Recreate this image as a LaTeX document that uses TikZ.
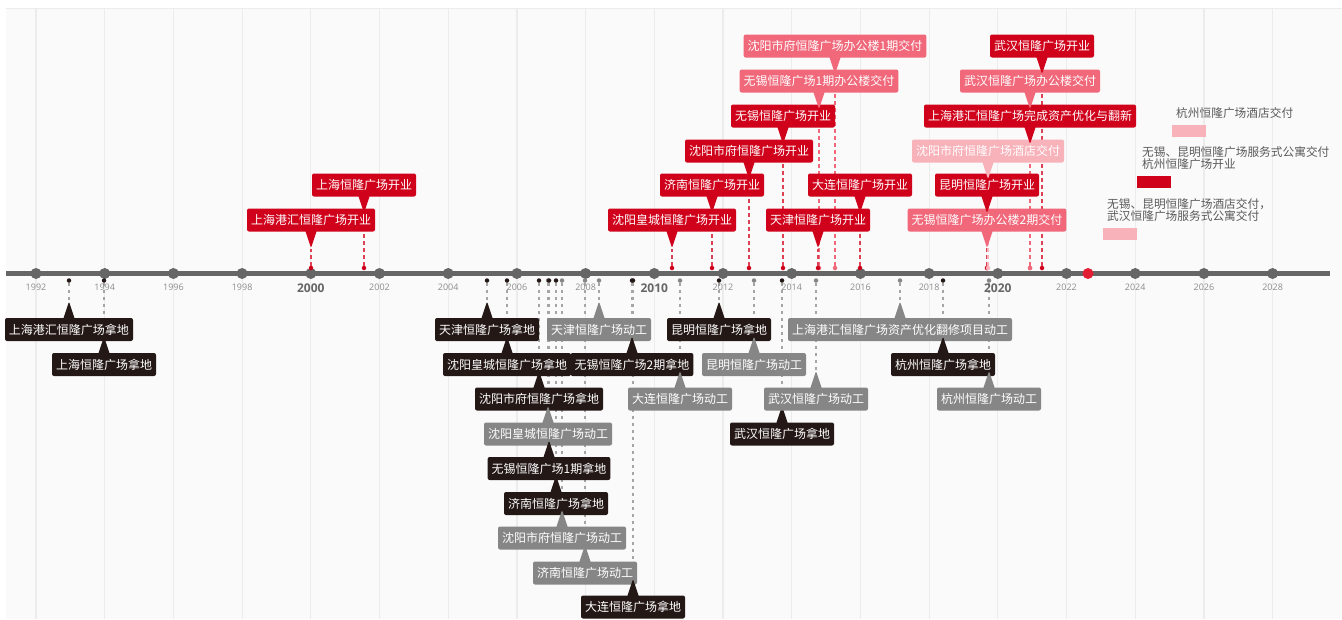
\documentclass[tikz,border=0pt]{standalone}
\usepackage{fontspec}
\setmainfont{Open Sans}
\newfontfamily\cjk{Noto Sans CJK SC}
\usepackage{tikz}
\usetikzlibrary{positioning,shapes}
\definecolor{TagRed}{RGB}{208,2,27}
\definecolor{TagPink}{RGB}{240,104,122}
\definecolor{TagPale}{RGB}{248,178,186}
\definecolor{TagBlack}{RGB}{35,24,21}
\definecolor{TagGray}{RGB}{134,134,134}
\definecolor{StemGray}{RGB}{165,165,165}
\definecolor{AxisGray}{RGB}{102,102,102}
\definecolor{YearGray}{RGB}{140,140,140}
\definecolor{NoteGray}{RGB}{90,90,90}
\definecolor{GridGray}{RGB}{236,236,236}
\definecolor{PanelGray}{RGB}{250,250,250}
\definecolor{NowRed}{RGB}{228,30,50}
\pgfdeclarelayer{back}
\pgfdeclarelayer{stems}
\pgfsetlayers{back,stems,main}

\begin{document}
\begin{tikzpicture}[x=1pt, y=-1pt,
    evtag/.style={rectangle callout, rounded corners=2pt, callout pointer width=11pt,
                  minimum height=23pt, inner xsep=4pt, inner ysep=0pt,
                  text=white, font=\cjk\fontsize{12}{12}\selectfont},
    uptag/.style={evtag, fill=#1, callout relative pointer={(0pt,-16.5pt)}},
    dntag/.style={evtag, fill=#1, callout relative pointer={(0pt,16.5pt)}},
    evdot/.style={circle, fill=#1, inner sep=0pt, minimum size=4.5pt},
    upstem/.style={draw=#1, dash pattern=on 3.5pt off 3.5pt, line width=1.2pt},
    dnstem/.style={draw=StemGray, dash pattern=on 3.5pt off 3.5pt, line width=1.2pt},
    yearmark/.style={circle, fill=AxisGray, inner sep=0pt, minimum size=11pt},
    yearlbl/.style={text=YearGray, inner sep=0pt, font=\fontsize{9}{10}\selectfont},
    bigyear/.style={text=AxisGray, inner sep=0pt, font=\bfseries\fontsize{12}{12}\selectfont},
    futbar/.style={rectangle, fill=#1, minimum width=34pt, minimum height=12pt, inner sep=0pt},
    futnote/.style={anchor=west, align=left, text=NoteGray, inner sep=0pt,
                    font=\cjk\fontsize{11.7}{12.5}\selectfont},
]
    \useasboundingbox (0,0) rectangle (1342,619);

    % panel and year grid
    \begin{pgfonlayer}{back}
        \fill[PanelGray] (6,8) rectangle (1342,619);
        \draw[GridGray, line width=0.8pt] (6,8) -- (1342,8);
        \foreach \yr in {1992,1994,...,2028}
            \draw[GridGray, line width=1.2pt] ({36+34.35*(\yr-1992)},8) -- ++(0,611);
    \end{pgfonlayer}

    % time axis
    \coordinate (axL) at (6,273.5);
    \coordinate (axR) at (1330,273.5);
    \draw[AxisGray, line width=5pt] (axL) -- (axR);
    \foreach \yr in {1992,1994,...,2028}
        \node[yearmark] (m\yr) at ({36+34.35*(\yr-1992)},273.5) {};
    \foreach \yr in {1992,1994,1996,1998,2002,2004,2006,2008,2012,2014,2016,2018,2022,2024,2026,2028}
        \node[yearlbl, below=5pt of m\yr] {\yr};
    \node[bigyear, below=4.5pt of m2000] {2000};
    \node[bigyear, below=4.5pt of m2010] {2010};
    \node[bigyear, below=4.5pt of m2020] {2020};
    \node[yearmark, fill=NowRed] (now) at (1088,273.5) {};

    % openings and deliveries (above the axis)
    \node[uptag=TagRed]  (t01) at (311,220)  {上海港汇恒隆广场开业};
    \node[uptag=TagRed]  (t02) at (364,185)  {上海恒隆广场开业};
    \node[uptag=TagRed]  (t03) at (672,220)  {沈阳皇城恒隆广场开业};
    \node[uptag=TagRed]  (t04) at (712,185)  {济南恒隆广场开业};
    \node[uptag=TagRed]  (t05) at (749,151)  {沈阳市府恒隆广场开业};
    \node[uptag=TagRed]  (t06) at (783,116)  {无锡恒隆广场开业};
    \node[uptag=TagPink] (t07) at (819,81)   {无锡恒隆广场1期办公楼交付};
    \node[uptag=TagPink] (t08) at (835,46)   {沈阳市府恒隆广场办公楼1期交付};
    \node[uptag=TagRed]  (t09) at (818,220)  {天津恒隆广场开业};
    \node[uptag=TagRed]  (t10) at (860,185)  {大连恒隆广场开业};
    \node[uptag=TagPink] (t11) at (987,220)  {无锡恒隆广场办公楼2期交付};
    \node[uptag=TagRed]  (t12) at (987,185)  {昆明恒隆广场开业};
    \node[uptag=TagPale] (t13) at (988,151)  {沈阳市府恒隆广场酒店交付};
    \node[uptag=TagRed]  (t14) at (1030,116) {上海港汇恒隆广场完成资产优化与翻新};
    \node[uptag=TagPink] (t15) at (1030,81)  {武汉恒隆广场办公楼交付};
    \node[uptag=TagRed]  (t16) at (1042,46)  {武汉恒隆广场开业};

    \node[evdot=TagRed]  (t01p) at (311,268)  {};
    \node[evdot=TagRed]  (t02p) at (364,268)  {};
    \node[evdot=TagRed]  (t03p) at (672,268)  {};
    \node[evdot=TagRed]  (t04p) at (712,268)  {};
    \node[evdot=TagRed]  (t05p) at (749,268)  {};
    \node[evdot=TagRed]  (t06p) at (783,268)  {};
    \node[evdot=TagPink] (t07p) at (819,268)  {};
    \node[evdot=TagPink] (t08p) at (835,268)  {};
    \node[evdot=TagRed]  (t09p) at (818,268)  {};
    \node[evdot=TagRed]  (t10p) at (860,268)  {};
    \node[evdot=TagPink] (t11p) at (987,268)  {};
    \node[evdot=TagRed]  (t12p) at (987,268)  {};
    \node[evdot=TagPale] (t13p) at (988,268)  {};
    \node[evdot=TagPink] (t14p) at (1030,268) {};
    \node[evdot=TagPink] (t15p) at (1030,268) {};
    \node[evdot=TagRed]  (t16p) at (1042,268) {};

    % land and construction (below the axis)
    \node[dntag=TagBlack] (b01) at (69,329.5)  {上海港汇恒隆广场拿地};
    \node[dntag=TagBlack] (b02) at (104,364.5) {上海恒隆广场拿地};
    \node[dntag=TagBlack] (b03) at (487,329.5) {天津恒隆广场拿地};
    \node[dntag=TagBlack] (b04) at (507,364.5) {沈阳皇城恒隆广场拿地};
    \node[dntag=TagBlack] (b05) at (539,399)   {沈阳市府恒隆广场拿地};
    \node[dntag=TagGray]  (b06) at (548,434)   {沈阳皇城恒隆广场动工};
    \node[dntag=TagBlack] (b07) at (549,468.5) {无锡恒隆广场1期拿地};
    \node[dntag=TagBlack] (b08) at (556,503.5) {济南恒隆广场拿地};
    \node[dntag=TagGray]  (b09) at (562,538)   {沈阳市府恒隆广场动工};
    \node[dntag=TagGray]  (b10) at (585,573)   {济南恒隆广场动工};
    \node[dntag=TagGray]  (b11) at (599,329.5) {天津恒隆广场动工};
    \node[dntag=TagBlack] (b12) at (632,364.5) {无锡恒隆广场2期拿地};
    \node[dntag=TagBlack] (b13) at (633,607)   {大连恒隆广场拿地};
    \node[dntag=TagGray]  (b14) at (680,399)   {大连恒隆广场动工};
    \node[dntag=TagBlack] (b15) at (719,329.5) {昆明恒隆广场拿地};
    \node[dntag=TagGray]  (b16) at (754,364.5) {昆明恒隆广场动工};
    \node[dntag=TagBlack] (b17) at (782,434)   {武汉恒隆广场拿地};
    \node[dntag=TagGray]  (b18) at (816,399)   {武汉恒隆广场动工};
    \node[dntag=TagGray]  (b19) at (900,329.5) {上海港汇恒隆广场资产优化翻修项目动工};
    \node[dntag=TagBlack] (b20) at (943,364.5) {杭州恒隆广场拿地};
    \node[dntag=TagGray]  (b21) at (989,399)   {杭州恒隆广场动工};

    \node[evdot=TagBlack] (b01p) at (69,280.5)  {};
    \node[evdot=TagBlack] (b02p) at (104,280.5) {};
    \node[evdot=TagBlack] (b03p) at (487,280.5) {};
    \node[evdot=TagBlack] (b04p) at (507,280.5) {};
    \node[evdot=TagBlack] (b05p) at (539,280.5) {};
    \node[evdot=TagGray]  (b06p) at (548,280.5) {};
    \node[evdot=TagBlack] (b07p) at (549,280.5) {};
    \node[evdot=TagBlack] (b08p) at (556,280.5) {};
    \node[evdot=TagGray]  (b09p) at (562,280.5) {};
    \node[evdot=TagGray]  (b10p) at (585,280.5) {};
    \node[evdot=TagGray]  (b11p) at (599,280.5) {};
    \node[evdot=TagBlack] (b12p) at (632,280.5) {};
    \node[evdot=TagBlack] (b13p) at (633,280.5) {};
    \node[evdot=TagGray]  (b14p) at (680,280.5) {};
    \node[evdot=TagBlack] (b15p) at (719,280.5) {};
    \node[evdot=TagGray]  (b16p) at (754,280.5) {};
    \node[evdot=TagBlack] (b17p) at (782,280.5) {};
    \node[evdot=TagGray]  (b18p) at (816,280.5) {};
    \node[evdot=TagGray]  (b19p) at (900,280.5) {};
    \node[evdot=TagBlack] (b20p) at (943,280.5) {};
    \node[evdot=TagGray]  (b21p) at (989,280.5) {};

    % dashed stems behind the tags
    \begin{pgfonlayer}{stems}
        \draw[upstem=TagRed!75]  (t01p) -- (t01.pointer);
        \draw[upstem=TagRed!75]  (t02p) -- (t02.pointer);
        \draw[upstem=TagRed!75]  (t03p) -- (t03.pointer);
        \draw[upstem=TagRed!75]  (t04p) -- (t04.pointer);
        \draw[upstem=TagRed!75]  (t05p) -- (t05.pointer);
        \draw[upstem=TagRed!75]  (t06p) -- (t06.pointer);
        \draw[upstem=TagPink]    (t07p) -- (t07.pointer);
        \draw[upstem=TagPink]    (t08p) -- (t08.pointer);
        \draw[upstem=TagRed!75]  (t09p) -- (t09.pointer);
        \draw[upstem=TagRed!75]  (t10p) -- (t10.pointer);
        \draw[upstem=TagPink]    (t11p) -- (t11.pointer);
        \draw[upstem=TagRed!75]  (t12p) -- (t12.pointer);
        \draw[upstem=TagPale]    (t13p) -- (t13.pointer);
        \draw[upstem=TagPink]    (t14p) -- (t14.pointer);
        \draw[upstem=TagPink]    (t15p) -- (t15.pointer);
        \draw[upstem=TagRed!75]  (t16p) -- (t16.pointer);
        \foreach \b in {b01,b02,b03,b04,b05,b06,b07,b08,b09,b10,b11,
                        b12,b13,b14,b15,b16,b17,b18,b19,b20,b21}
            \draw[dnstem] (\b p) -- (\b.pointer);
    \end{pgfonlayer}

    % planned deliveries
    \node[futbar=TagPale] (f23) at (1119.5,234) {};
    \node[futbar=TagRed]  (f24) at (1154,182)   {};
    \node[futbar=TagPale] (f25) at (1188.5,130.5) {};
    \node[futnote] (f23t) at (1107,210) {无锡、昆明恒隆广场酒店交付，\\武汉恒隆广场服务式公寓交付};
    \node[futnote] (f24t) at (1142,158) {无锡、昆明恒隆广场服务式公寓交付\\杭州恒隆广场开业};
    \node[futnote] (f25t) at (1176,113) {杭州恒隆广场酒店交付};
\end{tikzpicture}
\end{document}
